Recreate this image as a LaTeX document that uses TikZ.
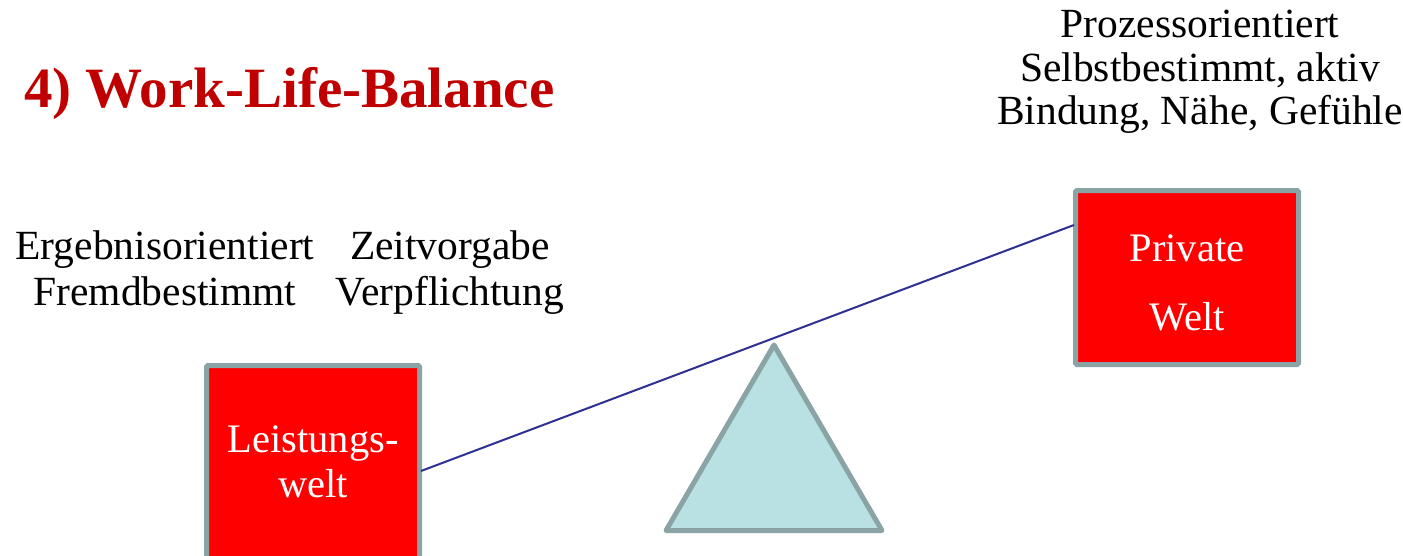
\documentclass[tikz,border=0pt]{standalone}
\usepackage{fontspec}
\setmainfont{Liberation Serif}
\definecolor{titlered}{HTML}{C00000}
\definecolor{boxred}{HTML}{FF0000}
\definecolor{edgegray}{HTML}{8AA4A6}
\definecolor{trifill}{HTML}{B9E0E3}
\definecolor{beamblue}{HTML}{2E3192}
\tikzset{
  body/.style={font=\fontsize{41.5}{44}\selectfont, text=black, inner sep=0pt, anchor=base},
  boxtext/.style={font=\fontsize{40.5}{43}\selectfont, text=white, inner sep=0pt, anchor=base},
  worldbox/.style={draw=edgegray, fill=boxred, line width=5pt, rounded corners=1.5pt},
  beam/.style={draw=beamblue, line width=2pt},
}
\begin{document}
\begin{tikzpicture}[x=1pt,y=-1pt]
\clip (0,0) rectangle (1403,555);
\useasboundingbox (0,0) rectangle (1403,555);
\fill[white] (0,0) rectangle (1403,555);
% title
\node[anchor=base west, inner sep=0pt, text=titlered, font=\fontsize{57}{60}\selectfont\bfseries] (title) at (24,107) {4) Work-Life-Balance};
% top right texts
\node[body] (p1) at (1200,37) {Prozessorientiert};
\node[body] (p2) at (1200,81) {Selbstbestimmt, aktiv};
\node[body] (p3) at (1200,124) {Bindung, Nähe, Gefühle};
% left texts
\node[body] (l1) at (165,259) {Ergebnisorientiert};
\node[body] (l2) at (165,305) {Fremdbestimmt};
\node[body] (l3) at (450,259) {Zeitvorgabe};
\node[body] (l4) at (450,305) {Verpflichtung};
% boxes
\path[worldbox] (206.5,365.5) rectangle (419.5,600);
\path[worldbox] (1075.5,190.5) rectangle (1298.5,364.5);
\node[boxtext] (lw1) at (313,452) {Leistungs-};
\node[boxtext] (lw2) at (313,497) {welt};
\node[boxtext] (pw1) at (1187,261) {Private};
\node[boxtext] (pw2) at (1187,330) {Welt};
% fulcrum
\filldraw[fill=trifill, draw=edgegray, line width=5pt, line join=round] (774,345) -- (882,530.5) -- (666,530.5) -- cycle;
% beam
\coordinate (bl) at (421,471);
\coordinate (br) at (1074,225);
\draw[beam] (bl) -- (br);
\end{tikzpicture}
\end{document}
